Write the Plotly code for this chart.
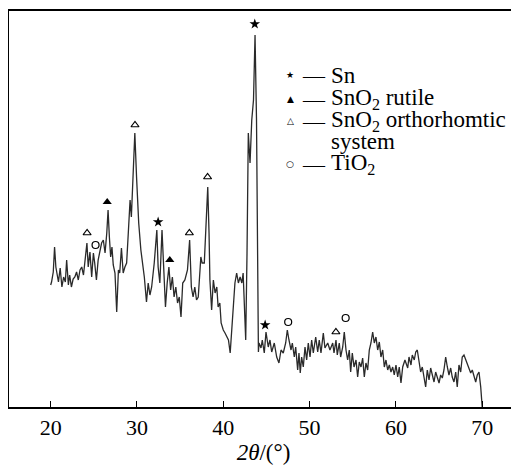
import plotly.graph_objects as go

# ---------------- data ----------------
two_theta = [
    20.0, 20.1, 20.3, 20.45, 20.6, 20.7, 20.9, 21.1, 21.3, 21.5, 21.7, 21.85, 22.05, 22.2, 22.4,
    22.6, 22.8, 23.0, 23.2, 23.4, 23.6, 23.8, 24.0, 24.2, 24.35, 24.55, 24.75, 24.95, 25.1, 25.3,
    25.5, 25.7, 25.9, 26.1, 26.3, 26.5, 26.65, 26.8, 26.95, 27.1, 27.25, 27.45, 27.65, 27.85, 28.0,
    28.2, 28.4, 28.6, 28.8, 29.0, 29.2, 29.35, 29.55, 29.75, 29.95, 30.2, 30.45, 30.6, 30.85, 31.1,
    31.3, 31.5, 31.7, 32.0, 32.3, 32.45, 32.65, 32.9, 33.15, 33.3, 33.5, 33.7, 33.9, 34.1, 34.3,
    34.5, 34.7, 34.9, 35.1, 35.3, 35.55, 35.85, 36.1, 36.3, 36.5, 36.7, 36.9, 37.1, 37.4, 37.55,
    37.8, 37.95, 38.2, 38.35, 38.45, 38.65, 38.85, 39.05, 39.25, 39.4, 39.6, 39.75, 40.0, 40.2,
    40.4, 40.6, 40.8, 40.95, 41.15, 41.35, 41.55, 41.75, 41.95, 42.15, 42.3, 42.5, 42.6, 42.75,
    42.9, 43.1, 43.3, 43.5, 43.68, 43.85, 44.0, 44.07,
    44.14, 44.37, 44.52, 44.75, 44.95, 45.21, 45.41, 45.61, 45.91, 46.19, 46.45, 46.69, 46.95,
    47.23, 47.42, 47.61, 47.85, 48.0, 48.23, 48.39, 48.62, 48.77, 48.92, 49.08, 49.27, 49.47,
    49.66, 49.85, 50.05, 50.24, 50.43, 50.71, 50.94, 51.12, 51.32, 51.59, 51.78, 52.1, 52.36,
    52.68, 52.83, 53.06, 53.21, 53.44, 53.6, 53.84, 54.02, 54.22, 54.41, 54.6, 54.76, 54.95,
    55.15, 55.38, 55.57, 55.76, 55.96, 56.15, 56.34, 56.53, 56.73, 56.92, 57.11, 57.31, 57.5,
    57.69, 57.89, 58.08, 58.27, 58.47, 58.66, 58.85, 59.05, 59.24, 59.43, 59.63, 59.81, 60.01,
    60.21, 60.39, 60.59, 60.79, 61.05, 61.37, 61.52, 61.75, 61.9, 62.13, 62.3, 62.48, 62.68,
    62.87, 63.06, 63.26, 63.45, 63.64, 63.84, 64.03, 64.22, 64.42, 64.61, 64.8, 65.0, 65.19,
    65.38, 65.57, 65.77, 65.96, 66.15, 66.35, 66.53, 66.73, 66.93, 67.11, 67.31, 67.51, 67.69,
    67.89, 68.09, 68.27, 68.47, 68.67, 68.85, 69.05, 69.25, 69.43, 69.63, 69.83, 70.0,
]
intensity = [
    122, 125, 135, 160, 140, 134, 125, 139, 120, 130, 125, 147, 122, 132, 120,
    128, 130, 135, 127, 137, 140, 132, 150, 164, 140, 155, 130, 154, 144, 127,
    147, 157, 164, 167, 154, 174, 197, 170, 150, 160, 142, 134, 95, 137, 134,
    159, 134, 140, 144, 175, 207, 190, 240, 274, 230, 184, 157, 147, 130, 105,
    124, 112, 120, 144, 177, 140, 124, 177, 137, 100, 124, 140, 117, 130, 110,
    120, 104, 110, 90, 124, 127, 137, 167, 120, 110, 120, 107, 110, 150, 144,
    144, 174, 220, 174, 127, 97, 127, 114, 120, 100, 104, 84, 77, 74,
    70, 67, 54, 74, 97, 124, 134, 124, 130, 124, 134, 97, 67, 154,
    274, 244, 287, 307, 372, 287, 154, 55,
    64, 59, 67, 54, 75, 60, 67, 55, 64, 50, 44, 57, 54,
    64, 77, 67, 57, 64, 50, 60, 37, 54, 34, 50, 40, 60,
    47, 64, 50, 67, 54, 70, 55, 67, 54, 74, 59, 64, 57,
    64, 54, 67, 52, 64, 50, 60, 75, 57, 47, 57, 35, 54,
    40, 47, 30, 45, 40, 49, 30, 44, 37, 57, 64, 75, 64,
    70, 57, 65, 50, 57, 40, 47, 37, 42, 35, 40, 32, 42,
    30, 40, 24, 40, 47, 39, 50, 42, 52, 47, 55, 57, 47,
    35, 40, 30, 20, 37, 27, 39, 32, 25, 35, 29, 24, 32,
    29, 37, 50, 40, 32, 39, 30, 25, 35, 20, 42, 35, 50,
    52, 47, 44, 39, 34, 37, 30, 25, 32, 35, 20, 0,
]

# peak labels (position, label height)
sn_x, sn_y = [32.45, 43.65, 44.85], [185, 383, 82]
rutile_x, rutile_y = [26.55, 33.8], [205, 147]
ortho_x, ortho_y = [24.22, 29.77, 36.07, 38.18, 53.05], [174, 282, 174, 230, 75]
tio2_x, tio2_y = [25.2, 47.52, 54.18], [162, 85, 89]

x_ticks = [20, 30, 40, 50, 60, 70]

legend_symbols = ["★", "▲", "△", None, "○"]
legend_texts = ["Sn", "SnO<sub>2</sub> rutile", "SnO<sub>2</sub> orthorhomtic", "system",
                "TiO<sub>2</sub>"]

# ---------------- figure ----------------
OFF = 8                      # page body margin of the html page
W, H = 519 - OFF, 465 - OFF
L, R, T, B = 1, 1, 3, 58
PW, PH = W - L - R, H - T - B


def px(x):  # page pixel -> paper
    return (x - OFF - L) / PW


def py(y):
    return (H - B - (y - OFF)) / PH


fig = go.Figure()
fig.add_trace(go.Scatter(x=two_theta, y=intensity, mode="lines",
                         line=dict(color="#2a2a2a", width=1.3), showlegend=False,
                         hoverinfo="skip"))

fig.add_trace(go.Scatter(x=sn_x, y=sn_y, mode="markers", showlegend=False,
                         marker=dict(symbol="star", color="black", size=8, line=dict(width=0))))
fig.add_trace(go.Scatter(x=rutile_x, y=rutile_y, mode="markers", showlegend=False,
                         marker=dict(symbol="triangle-up", color="black", size=8, line=dict(width=0))))
fig.add_trace(go.Scatter(x=ortho_x, y=ortho_y, mode="markers", showlegend=False,
                         marker=dict(symbol="triangle-up-open", color="black", size=7,
                                     line=dict(width=1.2, color="black"))))
fig.add_trace(go.Scatter(x=tio2_x, y=tio2_y, mode="markers", showlegend=False,
                         marker=dict(symbol="circle-open", color="black", size=7,
                                     line=dict(width=1.2, color="black"))))

serif = "Liberation Serif, Times New Roman, serif"
ann = []
row_y = [75, 99, 121, 141, 164]
for sym, txt, yy in zip(legend_symbols, legend_texts, row_y):
    if sym is not None:
        ann.append(dict(x=px(290), y=py(yy), xref="paper", yref="paper", text=sym,
                        showarrow=False, xanchor="center", yanchor="middle",
                        font=dict(family="DejaVu Sans", size=9, color="black")))
        ann.append(dict(x=px(300), y=py(yy), xref="paper", yref="paper", text="—",
                        showarrow=False, xanchor="left", yanchor="middle",
                        font=dict(family=serif, size=22, color="black")))
    ann.append(dict(x=px(329), y=py(yy), xref="paper", yref="paper", text=txt,
                    showarrow=False, xanchor="left", yanchor="middle",
                    font=dict(family=serif, size=23, color="black")))

fig.update_layout(
    width=W, height=H,
    margin=dict(l=L, r=R, t=T, b=B, pad=0),
    paper_bgcolor="white", plot_bgcolor="white",
    font=dict(family=serif, size=22, color="black"),
    annotations=ann,
    xaxis=dict(range=[15.17, 74.15], tickvals=x_ticks, ticks="inside", ticklen=6,
               tickwidth=1.2, tickcolor="black", showline=True, linecolor="black",
               linewidth=1.6, mirror=True, showgrid=False, zeroline=False,
               tickfont=dict(family=serif, size=22),
               title=dict(text="<i>2θ</i>/(°)", font=dict(family=serif, size=23), standoff=6)),
    yaxis=dict(range=[0, 396], showticklabels=False, ticks="", showline=True,
               linecolor="black", linewidth=1.6, mirror=False, showgrid=False,
               zeroline=False),
)

fig.write_html("out.html")
